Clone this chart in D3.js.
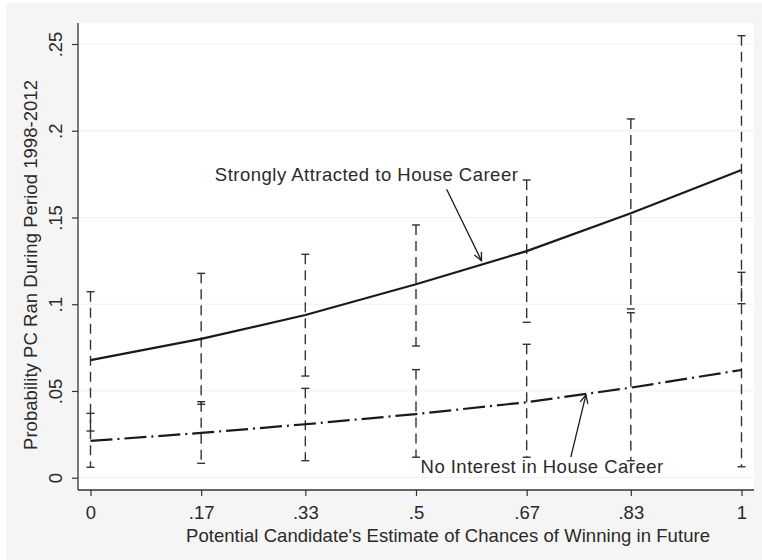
<!DOCTYPE html>
<html>
<head>
<meta charset="utf-8">
<script src="https://cdn.jsdelivr.net/npm/d3@7/dist/d3.min.js"></script>
<style>
  html, body { margin: 0; padding: 0; background: #ffffff; }
  svg text { font-family: "Liberation Sans", Arial, sans-serif; fill: #2a2a2a; }
</style>
</head>
<body>
<script>
// Self-assessed chance of winning (x) and predicted probability of running
const chances = [0, 0.17, 0.33, 0.5, 0.67, 0.83, 1];
const chanceLabels = ["0", ".17", ".33", ".5", ".67", ".83", "1"];

const attracted = [0.0678, 0.0800, 0.0938, 0.1115, 0.1306, 0.1524, 0.1774];
const attractedLo = [0.0269, 0.0423, 0.0586, 0.0759, 0.0896, 0.0973, 0.1003];
const attractedHi = [0.1072, 0.1178, 0.1288, 0.1457, 0.1716, 0.2068, 0.2548];

const noInterest = [0.0212, 0.0258, 0.0308, 0.0367, 0.0435, 0.0519, 0.0621];
const noInterestLo = [0.0060, 0.0083, 0.0098, 0.0118, 0.0118, 0.0098, 0.0063];
const noInterestHi = [0.0371, 0.0438, 0.0515, 0.0623, 0.0769, 0.0951, 0.1184];

const yTicks = [0, 0.05, 0.1, 0.15, 0.2, 0.25];
const yTickLabels = ["0", ".05", ".1", ".15", ".2", ".25"];

const W = 762, H = 560;
const plot = { left: 78, right: 754, top: 23, bottom: 490 };
const FONT = "18.5px";

const x = d3.scaleLinear().domain([0, 1]).range([90.5, 741.5]);
const y = d3.scaleLinear().domain([0, 0.25]).range([477.7, 44]);

const svg = d3.select("body").append("svg")
  .attr("width", W).attr("height", H);

// Graph background and plot region
svg.append("rect").attr("x", 6).attr("y", 3).attr("width", W - 6).attr("height", H - 3)
  .attr("fill", "#f5f5f5");
svg.append("rect").attr("x", plot.left).attr("y", plot.top)
  .attr("width", plot.right - plot.left).attr("height", plot.bottom - plot.top)
  .attr("fill", "#ffffff");

// Faint horizontal grid
svg.append("g").selectAll("line").data(yTicks).join("line")
  .attr("x1", plot.left).attr("x2", plot.right)
  .attr("y1", d => y(d)).attr("y2", d => y(d))
  .attr("stroke", "#efefef").attr("stroke-width", 1);

// Confidence intervals: dashed spikes with caps
function drawCI(lo, hi) {
  const g = svg.append("g").attr("stroke", "#333333").attr("fill", "none");
  g.selectAll("line.spike").data(chances).join("line").attr("class", "spike")
    .attr("x1", d => x(d)).attr("x2", d => x(d))
    .attr("y1", (d, i) => y(hi[i])).attr("y2", (d, i) => y(lo[i]))
    .attr("stroke-width", 1.4).attr("stroke-dasharray", "10,6");
  const caps = [];
  chances.forEach((c, i) => { caps.push([c, lo[i]]); caps.push([c, hi[i]]); });
  g.selectAll("line.cap").data(caps).join("line").attr("class", "cap")
    .attr("x1", d => x(d[0]) - 4).attr("x2", d => x(d[0]) + 4)
    .attr("y1", d => y(d[1])).attr("y2", d => y(d[1]))
    .attr("stroke-width", 1.4);
}
drawCI(attractedLo, attractedHi);
drawCI(noInterestLo, noInterestHi);

// Predicted probability lines
const line = d3.line().x((d, i) => x(chances[i])).y(d => y(d));
svg.append("path").datum(attracted).attr("d", line)
  .attr("fill", "none").attr("stroke", "#1a1a1a").attr("stroke-width", 2.2);
svg.append("path").datum(noInterest).attr("d", line)
  .attr("fill", "none").attr("stroke", "#1a1a1a").attr("stroke-width", 2.2)
  .attr("stroke-dasharray", "22,5,2,5");

// Axes
const yAxis = d3.axisLeft(y).tickValues(yTicks)
  .tickFormat((d, i) => yTickLabels[i]).tickSize(6);
const gy = svg.append("g").attr("transform", `translate(${plot.left},0)`).call(yAxis);
gy.select(".domain").attr("d", `M0,${plot.top}V${plot.bottom}`)
  .attr("stroke", "#333").attr("stroke-width", 1.3);
gy.selectAll(".tick line").attr("stroke", "#333").attr("stroke-width", 1.2);
gy.selectAll(".tick text")
  .attr("transform", "translate(-16.3,0) rotate(-90)")
  .attr("x", 0).attr("y", 0).attr("dy", null)
  .attr("text-anchor", "middle")
  .style("font-size", FONT).style("font-family", "Liberation Sans, Arial, sans-serif")
  .attr("fill", "#2a2a2a");

const xAxis = d3.axisBottom(x).tickValues(chances)
  .tickFormat((d, i) => chanceLabels[i]).tickSize(6);
const gx = svg.append("g").attr("transform", `translate(0,${plot.bottom})`).call(xAxis);
gx.select(".domain").attr("d", `M${plot.left},0H${plot.right}`)
  .attr("stroke", "#333").attr("stroke-width", 1.3);
gx.selectAll(".tick line").attr("stroke", "#333").attr("stroke-width", 1.2);
gx.selectAll(".tick text")
  .attr("y", 29.3).attr("dy", null)
  .style("font-size", FONT).style("font-family", "Liberation Sans, Arial, sans-serif")
  .attr("fill", "#2a2a2a");

// Axis titles
svg.append("text")
  .attr("x", 448).attr("y", 541.7)
  .attr("text-anchor", "middle").style("font-size", FONT)
  .attr("textLength", 524).attr("lengthAdjust", "spacing")
  .text("Potential Candidate's Estimate of Chances of Winning in Future");
svg.append("text")
  .attr("transform", "translate(36.5,265) rotate(-90)")
  .attr("text-anchor", "middle").style("font-size", FONT)
  .attr("textLength", 370).attr("lengthAdjust", "spacing")
  .text("Probability PC Ran During Period 1998-2012");

// Annotations with open arrowheads
function arrow(x1, y1, x2, y2) {
  const px1 = x(x1), py1 = y(y1), px2 = x(x2), py2 = y(y2);
  const a = Math.atan2(py2 - py1, px2 - px1);
  const len = 9, spread = 0.45;
  const g = svg.append("g").attr("stroke", "#1a1a1a").attr("stroke-width", 1.3).attr("fill", "none");
  g.append("line").attr("x1", px1).attr("y1", py1).attr("x2", px2).attr("y2", py2);
  g.append("path").attr("d",
    `M${px2 - len * Math.cos(a - spread)},${py2 - len * Math.sin(a - spread)}` +
    `L${px2},${py2}` +
    `L${px2 - len * Math.cos(a + spread)},${py2 - len * Math.sin(a + spread)}`);
}
svg.append("text").attr("x", x(0.191)).attr("y", y(0.1712))
  .style("font-size", FONT).attr("textLength", 303).attr("lengthAdjust", "spacing")
  .text("Strongly Attracted to House Career");
arrow(0.547, 0.1663, 0.6006, 0.1251);

svg.append("text").attr("x", x(0.507)).attr("y", y(0.0025))
  .style("font-size", FONT).attr("textLength", 242.6).attr("lengthAdjust", "spacing")
  .text("No Interest in House Career");
arrow(0.7378, 0.0119, 0.7610, 0.0477);
</script>
</body>
</html>
